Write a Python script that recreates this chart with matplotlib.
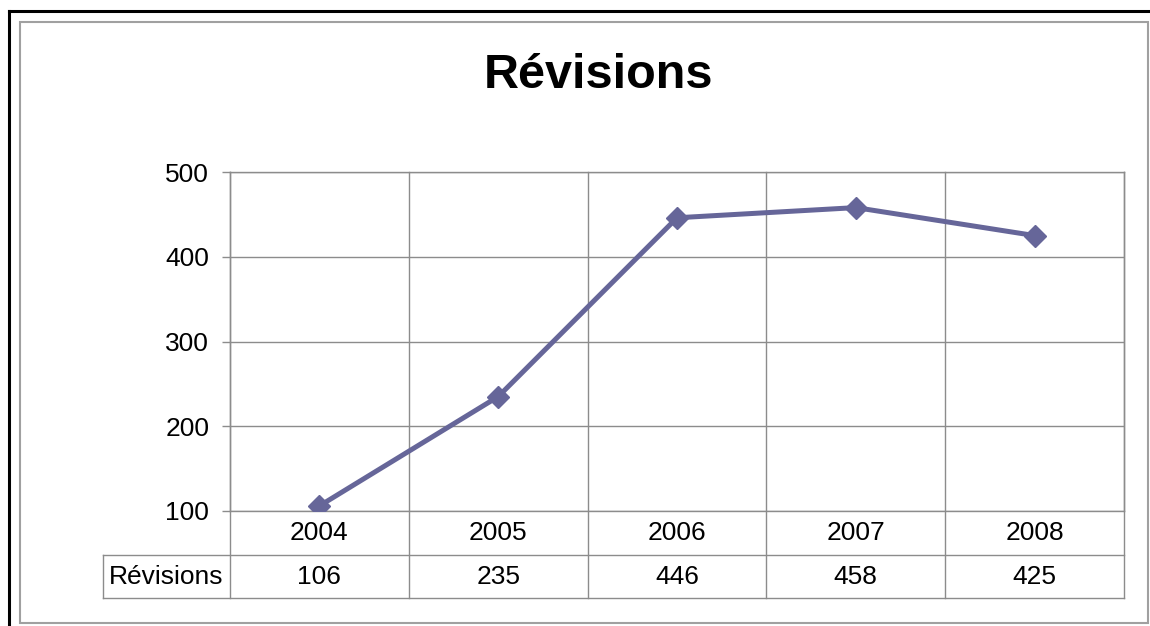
import matplotlib
matplotlib.use("Agg")
import matplotlib.pyplot as plt
from matplotlib.lines import Line2D
from matplotlib.patches import Rectangle
import matplotlib.transforms as mtransforms

plt.rcParams['font.family'] = ['Liberation Sans', 'DejaVu Sans']

# data
years = ['2004', '2005', '2006', '2007', '2008']
revisions = [106, 235, 446, 458, 425]
series_name = 'Révisions'
y_ticks = [100, 200, 300, 400, 500]

W, H = 1150, 626
fig = plt.figure(figsize=(W / 100, H / 100), dpi=100)

def fx(px):
    return px / W

def fy(py):
    return 1 - py / H

# outer frames
fig.add_artist(Line2D([fx(9), fx(9)], [fy(11), fy(630)], color='black', lw=2.2))
fig.add_artist(Line2D([fx(9), fx(1152)], [fy(11), fy(11)], color='black', lw=2.2))
fig.add_artist(Rectangle((fx(20), fy(623)), fx(1148) - fx(20), fy(22) - fy(623),
                         fill=False, edgecolor='#a0a0a0', lw=1.5))

ax = fig.add_axes([fx(230), fy(511), fx(1124) - fx(230), fy(172) - fy(511)])
grid_c = '#8c8c8c'
fs = 19
x = list(range(len(years)))
ax.plot(x, revisions, color='#666699', lw=3.6, marker='D', markersize=11,
        markerfacecolor='#666699', markeredgecolor='#666699', zorder=5)

ax.set_xlim(-0.5, len(years) - 0.5)
ax.set_ylim(y_ticks[0], y_ticks[-1])
ax.set_yticks(y_ticks)
ax.set_yticklabels([str(v) for v in y_ticks], fontsize=fs)
ax.set_xticks([])
ax.tick_params(axis='y', direction='out', length=6, width=1, color=grid_c, pad=9)
for sp in ax.spines.values():
    sp.set_color(grid_c)
    sp.set_linewidth(1)
for v in y_ticks:
    ax.axhline(v, color=grid_c, lw=1, zorder=1)

# data table drawn below the axes
trans = mtransforms.blended_transform_factory(ax.transData, ax.transAxes)
h_ax = 511 - 172
row1 = -(555 - 511) / h_ax
row2 = -(598 - 511) / h_ax
left_x = (103 - 230) / (1124 - 230) * len(years) - 0.5

for b in [i - 0.5 for i in range(len(years) + 1)]:
    ax.add_line(Line2D([b, b], [1, row2], transform=trans, color=grid_c, lw=1,
                       clip_on=False, zorder=1))
ax.add_line(Line2D([left_x, len(years) - 0.5], [row1, row1], transform=trans,
                   color=grid_c, lw=1, clip_on=False))
ax.add_line(Line2D([left_x, len(years) - 0.5], [row2, row2], transform=trans,
                   color=grid_c, lw=1, clip_on=False))
ax.add_line(Line2D([left_x, left_x], [row1, row2], transform=trans,
                   color=grid_c, lw=1, clip_on=False))

for i, (yr, val) in enumerate(zip(years, revisions)):
    ax.text(i, row1 / 2, yr, transform=trans, ha='center', va='center', fontsize=fs)
    ax.text(i, (row1 + row2) / 2, str(val), transform=trans, ha='center',
            va='center', fontsize=fs)
ax.text((left_x - 0.5) / 2, (row1 + row2) / 2, series_name, transform=trans,
        ha='center', va='center', fontsize=fs)

fig.text(fx(599), fy(76), 'Révisions', ha='center', va='center',
         fontsize=35, fontweight='bold')

fig.savefig('out.png', dpi=100)
